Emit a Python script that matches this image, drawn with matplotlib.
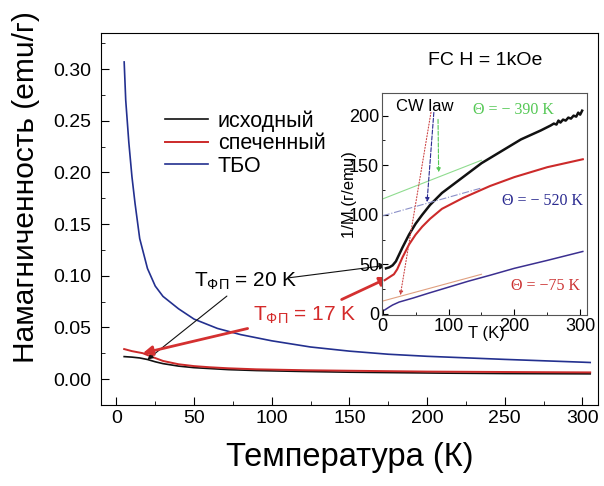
import numpy as np
import matplotlib
matplotlib.use("Agg")
import matplotlib.pyplot as plt
from matplotlib.ticker import MultipleLocator, FormatStrFormatter

plt.rcParams["font.family"] = ["Liberation Sans", "DejaVu Sans"]
plt.rcParams["mathtext.default"] = "regular"

# main panel: M(T)
T_tbo = [5, 6, 8, 10, 12, 15, 20, 25, 30, 40, 50, 65, 80, 100, 125, 150, 175, 200, 250, 300, 305]
M_tbo = [0.307, 0.270, 0.229, 0.196, 0.170, 0.136, 0.107, 0.090, 0.080, 0.068, 0.058, 0.049,
         0.043, 0.037, 0.031, 0.027, 0.024, 0.022, 0.019, 0.0163, 0.016]

T_init = [5, 10, 15, 20, 25, 30, 40, 50, 72, 90, 120, 150, 210, 250, 305]
M_init = [0.0217, 0.0212, 0.0204, 0.0189, 0.0167, 0.0149, 0.0125, 0.011, 0.0091, 0.0082,
          0.0073, 0.0066, 0.0057, 0.0053, 0.0050]

T_sint = [5, 10, 17, 22, 30, 40, 50, 60, 72, 90, 122, 163, 200, 250, 305]
M_sint = [0.029, 0.027, 0.025, 0.022, 0.0175, 0.0143, 0.0125, 0.0114, 0.0104, 0.0094,
          0.0085, 0.0078, 0.0072, 0.0068, 0.0064]

# inset: 1/M (T)
iT_init = [5, 10, 15, 20, 25, 30, 40, 50, 60, 72, 90, 120, 150, 180, 210, 240, 255, 260,
           264, 267, 270, 274, 278, 282, 286, 290, 294, 297, 300, 303]
iM_init = [46, 47, 49, 53, 60, 67, 80, 91, 100, 110, 122, 137, 152, 164, 176, 185, 190, 192,
           191, 195, 193, 196, 195, 198, 197, 200, 199, 203, 201, 205]

iT_sint = [3, 10, 17, 22, 30, 40, 50, 60, 72, 90, 122, 163, 200, 250, 304]
iM_sint = [34, 37, 40, 45, 57, 70, 80, 88, 96, 106, 117, 129, 138, 148, 156]

iT_tbo = [3, 10, 15, 25, 46, 70, 100, 130, 163, 200, 250, 304]
iM_tbo = [4, 7, 9, 12, 16, 21, 27, 33, 39, 46, 54, 63]

# Curie-Weiss fits (end points)
cw_T = [0, 150]
cw_390 = [116, 155]
cw_520 = [99, 127]
cw_75 = [13, 40]

T_fp_init = 20
T_fp_sint = 17

c_black = "#111111"
c_red = "#cc2a2a"
c_blue = "#23308f"

fig = plt.figure(figsize=(6.04, 4.86), dpi=100)
ax = fig.add_axes([0.167, 0.167, 0.823, 0.765])

ax.plot(T_init, M_init, color=c_black, lw=1.2, label="исходный")
ax.plot(T_sint, M_sint, color=c_red, lw=1.4, label="спеченный")
ax.plot(T_tbo, M_tbo, color=c_blue, lw=1.2, label="ТБО")

ax.set_xlim(-10, 310)
ax.set_ylim(-0.025, 0.335)
ax.xaxis.set_major_locator(MultipleLocator(50))
ax.xaxis.set_minor_locator(MultipleLocator(25))
ax.yaxis.set_major_locator(MultipleLocator(0.05))
ax.yaxis.set_minor_locator(MultipleLocator(0.025))
ax.yaxis.set_major_formatter(FormatStrFormatter("%.2f"))
ax.tick_params(which="both", direction="in", labelsize=14, top=False, right=False)
ax.tick_params(axis="y", which="major", pad=7)
ax.tick_params(which="major", length=6)
ax.tick_params(which="minor", length=3)
ax.set_xlabel("Температура (К)", fontsize=23.5)
ax.set_ylabel("Намагниченность (emu/г)", fontsize=21.5)
ax.xaxis.set_label_coords(0.5, -0.1)
ax.yaxis.set_label_coords(-0.123, 0.586)

ax.legend(loc="upper left", bbox_to_anchor=(0.09, 0.845), frameon=False, fontsize=15.5,
          handlelength=2.0, handletextpad=0.45, labelspacing=0.08)
ax.text(0.773, 0.927, "FC H = 1kOe", transform=ax.transAxes, fontsize=14, ha="center", va="center")

# inset
axin = fig.add_axes([0.632, 0.352, 0.340, 0.457])
axin.plot(iT_tbo, iM_tbo, color="#3b2f90", lw=1.1)
axin.plot(iT_sint, iM_sint, color=c_red, lw=1.5)
axin.plot(iT_init, iM_init, color=c_black, lw=1.8)
axin.plot(cw_T, cw_390, color="#8fdc8f", lw=0.8)
axin.plot(cw_T, cw_520, color="#8a8fc8", lw=0.8, ls="-.")
axin.plot(cw_T, cw_75, color="#e0a080", lw=0.8)

axin.set_xlim(-1.5, 310.5)
axin.set_ylim(-1, 223)
axin.xaxis.set_major_locator(MultipleLocator(100))
axin.xaxis.set_minor_locator(MultipleLocator(50))
axin.yaxis.set_major_locator(MultipleLocator(50))
axin.yaxis.set_minor_locator(MultipleLocator(25))
axin.tick_params(which="both", direction="in", labelsize=13, top=False, right=False, pad=2)
axin.tick_params(which="major", length=4)
axin.tick_params(which="minor", length=2)
axin.set_xlabel("T (K)", fontsize=12)
axin.set_ylabel("1/M (г/emu)", fontsize=12)
axin.xaxis.set_label_coords(0.51, -0.05)
axin.yaxis.set_label_coords(-0.12, 0.54)
for sp in axin.spines.values():
    sp.set_color("#555555")

axin.text(20, 209, "CW law", fontsize=12, ha="left", va="center")
serif = ["Liberation Serif", "DejaVu Serif"]
axin.text(198, 206, "Θ = − 390 K", color="#55c855", fontsize=11.5, family=serif, ha="center", va="center")
axin.text(242, 114, "Θ = − 520 K", color="#2a2a90", fontsize=11.5, family=serif, ha="center", va="center")
axin.text(247, 28, "Θ = −75 K", color="#cc3333", fontsize=11.5, family=serif, ha="center", va="center")

axin.annotate("", xy=(26, 16), xytext=(74, 206),
              arrowprops=dict(arrowstyle="-|>", color="#cc4444", lw=0.8, ls=":", mutation_scale=6))
axin.annotate("", xy=(67, 110), xytext=(78, 206),
              arrowprops=dict(arrowstyle="-|>", color="#2a2a90", lw=0.8, ls="--", mutation_scale=6))
axin.annotate("", xy=(85, 140), xytext=(84, 199),
              arrowprops=dict(arrowstyle="-|>", color="#55c855", lw=0.8, ls="--", mutation_scale=6))

# phase transition arrows
y_init = np.interp(T_fp_init, T_init, M_init)
y_sint = np.interp(T_fp_sint, T_sint, M_sint)
ax.annotate("T$_{ФП}$ = 20 K", xy=(T_fp_init, y_init), xytext=(50, 0.095), fontsize=15,
            ha="left", va="center",
            arrowprops=dict(arrowstyle="-|>", color=c_black, lw=0.8, mutation_scale=8,
                            shrinkA=2, shrinkB=0))
ax.annotate("", xy=(iT_init[0], iM_init[0] + 3), xycoords=axin.transData,
            xytext=(111, 0.098), textcoords="data",
            arrowprops=dict(arrowstyle="-|>", color=c_black, lw=0.8, mutation_scale=10,
                            shrinkA=0, shrinkB=0))
ax.annotate("T$_{ФП}$ = 17 K", xy=(T_fp_sint, y_sint), xytext=(88, 0.062), fontsize=15,
            color="#d42a2a", ha="left", va="center",
            arrowprops=dict(arrowstyle="-|>", color="#d43030", lw=2, mutation_scale=14,
                            shrinkA=2, shrinkB=0))
ax.annotate("", xy=(iT_sint[1], iM_sint[1]), xycoords=axin.transData,
            xytext=(145, 0.077), textcoords="data",
            arrowprops=dict(arrowstyle="-|>", color="#d43030", lw=2, mutation_scale=14,
                            shrinkA=0, shrinkB=0))

fig.savefig("out.png", dpi=100)
